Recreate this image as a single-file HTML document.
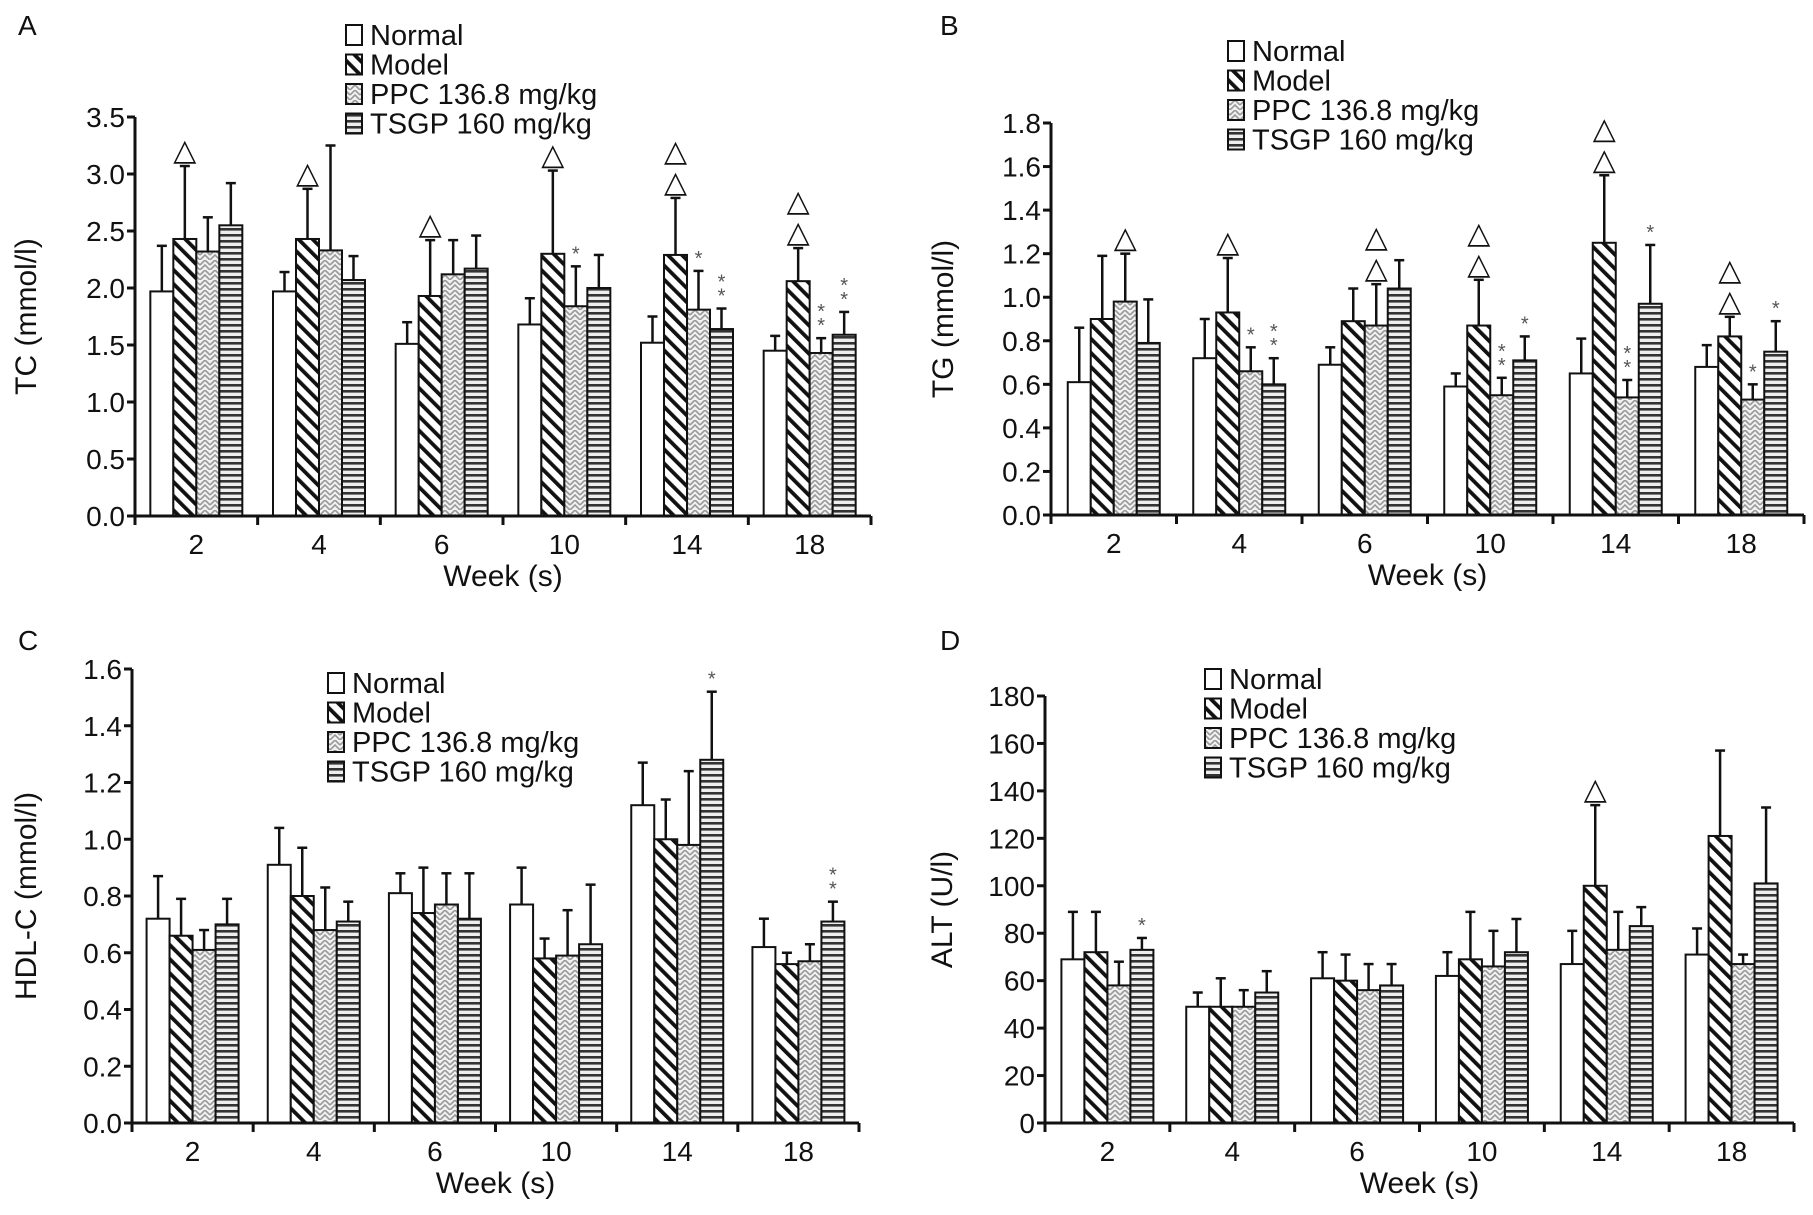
<!DOCTYPE html>
<html><head><meta charset="utf-8">
<style>
html,body{margin:0;padding:0;background:#fff;}
svg{display:block;font-family:"Liberation Sans",Arial,sans-serif;}
</style></head>
<body>
<svg id="fig" width="1813" height="1215" viewBox="0 0 1813 1215" xmlns="http://www.w3.org/2000/svg">
<defs>
<pattern id="pModel" patternUnits="userSpaceOnUse" width="10" height="10" patternTransform="rotate(-45)">
<rect width="10" height="10" fill="#fff"/><rect x="0" y="0" width="3.8" height="10" fill="#111"/></pattern>
<pattern id="pPPC" patternUnits="userSpaceOnUse" width="10" height="10">
<rect width="10" height="10" fill="#f2f2f2"/><path d="M0,5 L5,0 L10,5 M0,10 L5,5 L10,10" stroke="#999" stroke-width="1.6" fill="none"/></pattern>
<pattern id="pTSGP" patternUnits="userSpaceOnUse" width="8" height="6">
<rect width="8" height="6" fill="#eee"/><rect y="0" width="8" height="2.6" fill="#333"/></pattern>
</defs>
</svg>
<script>
// ---- Panel A: TC ----
const categories = ['2','4','6','10','14','18'];
const seriesNames = ['Normal','Model','PPC 136.8 mg/kg','TSGP 160 mg/kg'];
const tcNormal = [1.97,1.97,1.51,1.68,1.52,1.45];
const tcModel  = [2.43,2.43,1.93,2.30,2.29,2.06];
const tcPPC    = [2.32,2.33,2.12,1.84,1.81,1.43];
const tcTSGP   = [2.55,2.07,2.17,2.00,1.64,1.59];
const tcErrNormal = [0.40,0.17,0.19,0.23,0.23,0.13];
const tcErrModel  = [0.64,0.44,0.49,0.73,0.50,0.29];
const tcErrPPC    = [0.30,0.92,0.30,0.35,0.34,0.13];
const tcErrTSGP   = [0.37,0.21,0.29,0.29,0.18,0.20];
const tcTicks = ['0.0','0.5','1.0','1.5','2.0','2.5','3.0','3.5'];
// ---- Panel B: TG ----
const tgNormal = [0.61,0.72,0.69,0.59,0.65,0.68];
const tgModel  = [0.90,0.93,0.89,0.87,1.25,0.82];
const tgPPC    = [0.98,0.66,0.87,0.55,0.54,0.53];
const tgTSGP   = [0.79,0.60,1.04,0.71,0.97,0.75];
const tgErrNormal = [0.25,0.18,0.08,0.06,0.16,0.10];
const tgErrModel  = [0.29,0.25,0.15,0.21,0.31,0.09];
const tgErrPPC    = [0.22,0.11,0.19,0.08,0.08,0.07];
const tgErrTSGP   = [0.20,0.12,0.13,0.11,0.27,0.14];
const tgTicks = ['0.0','0.2','0.4','0.6','0.8','1.0','1.2','1.4','1.6','1.8'];
// ---- Panel C: HDL-C ----
const hdlNormal = [0.72,0.91,0.81,0.77,1.12,0.62];
const hdlModel  = [0.66,0.80,0.74,0.58,1.00,0.56];
const hdlPPC    = [0.61,0.68,0.77,0.59,0.98,0.57];
const hdlTSGP   = [0.70,0.71,0.72,0.63,1.28,0.71];
const hdlErrNormal = [0.15,0.13,0.07,0.13,0.15,0.10];
const hdlErrModel  = [0.13,0.17,0.16,0.07,0.14,0.04];
const hdlErrPPC    = [0.07,0.15,0.11,0.16,0.26,0.06];
const hdlErrTSGP   = [0.09,0.07,0.16,0.21,0.24,0.07];
const hdlTicks = ['0.0','0.2','0.4','0.6','0.8','1.0','1.2','1.4','1.6'];
// ---- Panel D: ALT ----
const altNormal = [69,49,61,62,67,71];
const altModel  = [72,49,60,69,100,121];
const altPPC    = [58,49,56,66,73,67];
const altTSGP   = [73,55,58,72,83,101];
const altErrNormal = [20,6,11,10,14,11];
const altErrModel  = [17,12,11,20,34,36];
const altErrPPC    = [10,7,11,15,16,4];
const altErrTSGP   = [5,9,9,14,8,32];
const altTicks = ['0','20','40','60','80','100','120','140','160','180'];

// annotations: [categoryIndex, seriesIndex, text]
const tcMarks = [[0,1,'△'],[1,1,'△'],[2,1,'△'],[3,1,'△'],[4,1,'△△'],[5,1,'△△'],[3,2,'*'],[4,2,'*'],[4,3,'**'],[5,2,'**'],[5,3,'**']];
const tgMarks = [[0,2,'△'],[1,1,'△'],[2,2,'△△'],[3,1,'△△'],[4,1,'△△'],[5,1,'△△'],[1,2,'*'],[1,3,'**'],[3,2,'**'],[3,3,'*'],[4,2,'**'],[4,3,'*'],[5,2,'*'],[5,3,'*']];
const hdlMarks = [[4,3,'*'],[5,3,'**']];
const altMarks = [[4,1,'△'],[0,3,'*']];

const NS='http://www.w3.org/2000/svg';
const svg=document.getElementById('fig');
const fills=['#fff','url(#pModel)','url(#pPPC)','url(#pTSGP)'];
function mk(tag,attrs,parent){const e=document.createElementNS(NS,tag);for(const k in attrs)e.setAttribute(k,attrs[k]);(parent||svg).appendChild(e);return e;}

function panel(cfg){
  const g=mk('g',{});
  
  
  const {x0,x1,y0,y1,ymax}=cfg;
  const ys=v=>y0-(v/ymax)*(y0-y1);
  const gw=(x1-x0)/categories.length;
  const bw=23, pad=(gw-4*bw)/2;
  const bx=(ci,si)=>x0+ci*gw+pad+si*bw;
  const L=mk('text',{x:cfg.lx,y:cfg.ly,'font-size':28,fill:'#111'},g);L.textContent=cfg.letter;
  
  
  cfg.series.forEach((vals,si)=>{
    vals.forEach((v,ci)=>{
      const x=bx(ci,si), top=ys(v), e=cfg.errs[si][ci], et=ys(v+e), cx=x+bw/2;
      const ln=mk('line',{x1:cx,y1:top,x2:cx,y2:et,stroke:'#111','stroke-width':2.5},g);
      
      
      mk('line',{x1:cx-5,y1:et,x2:cx+5,y2:et,stroke:'#111','stroke-width':2.5},g);
      const r=mk('rect',{x:x,y:top,width:bw,height:y0-top,fill:fills[si],stroke:'#111','stroke-width':2},g);
      
      
    });
  });
  cfg.marks.forEach(m=>{
    const [ci,si,t]=m;const v=cfg.series[si][ci]+cfg.errs[si][ci];
    const cx=bx(ci,si)+bw/2;let y=ys(v)-6;
    const tri=t[0]==='△';
    for(let k=0;k<t.length;k++){
      const tt=mk('text',{x:cx,y:y,'text-anchor':'middle','font-size':tri?30:20,fill:tri?'#111':'#555'},g);
      tt.textContent=t[k];
      
      
      y-= tri?31:14;
    }
  });
  mk('line',{x1:x0,y1:y0,x2:x1,y2:y0,stroke:'#111','stroke-width':3},g);
  mk('line',{x1:x0,y1:y0+1.5,x2:x0,y2:y1,stroke:'#111','stroke-width':3},g);
  cfg.ticks.forEach((t,i)=>{
    const y=ys(i*ymax/(cfg.ticks.length-1));
    mk('line',{x1:x0-8,y1:y,x2:x0,y2:y,stroke:'#111','stroke-width':3},g);
    const tx=mk('text',{x:x0-10,y:y+10,'text-anchor':'end','font-size':28,fill:'#111'},g);tx.textContent=t;
    
    
  });
  for(let i=0;i<=categories.length;i++){
    const x=x0+i*gw;mk('line',{x1:x,y1:y0,x2:x,y2:y0+9,stroke:'#111','stroke-width':3},g);
  }
  categories.forEach((c,i)=>{
    const tx=mk('text',{x:x0+(i+0.5)*gw,y:y0+38,'text-anchor':'middle','font-size':28,fill:'#111'},g);tx.textContent=c;
    
    
  });
  const xt=mk('text',{x:(x0+x1)/2,y:y0+70,'text-anchor':'middle','font-size':30,fill:'#111'},g);xt.textContent='Week (s)';
  
  
  const yt=mk('text',{x:0,y:0,'text-anchor':'middle','font-size':30,fill:'#111',transform:`translate(${cfg.ytx},${(y0+y1)/2}) rotate(-90)`},g);yt.textContent=cfg.ytitle;
  
  
  seriesNames.forEach((n,i)=>{
    const y=cfg.legy+i*29.5;
    mk('rect',{x:cfg.legx,y:y-10,width:16,height:20,fill:fills[i],stroke:'#111','stroke-width':2},g);
    const tx=mk('text',{x:cfg.legx+24,y:y+10,'font-size':29,fill:'#111'},g);tx.textContent=n;
    
    
  });
}
panel({id:'tc',letter:'A',lx:18,ly:35,x0:135,x1:871,y0:516,y1:117,ymax:3.5,ticks:tcTicks,ytitle:'TC (mmol/l)',ytx:36,legx:346,legy:35,
  series:[tcNormal,tcModel,tcPPC,tcTSGP],errs:[tcErrNormal,tcErrModel,tcErrPPC,tcErrTSGP],marks:tcMarks});
panel({id:'tg',letter:'B',lx:940,ly:35,x0:1051,x1:1804,y0:515,y1:123,ymax:1.8,ticks:tgTicks,ytitle:'TG (mmol/l)',ytx:953,legx:1228,legy:51,
  series:[tgNormal,tgModel,tgPPC,tgTSGP],errs:[tgErrNormal,tgErrModel,tgErrPPC,tgErrTSGP],marks:tgMarks});
panel({id:'hdl',letter:'C',lx:18,ly:650,x0:132,x1:859,y0:1123,y1:669,ymax:1.6,ticks:hdlTicks,ytitle:'HDL-C (mmol/l)',ytx:36,legx:328,legy:683,
  series:[hdlNormal,hdlModel,hdlPPC,hdlTSGP],errs:[hdlErrNormal,hdlErrModel,hdlErrPPC,hdlErrTSGP],marks:hdlMarks});
panel({id:'alt',letter:'D',lx:940,ly:650,x0:1045,x1:1794,y0:1123,y1:696,ymax:180,ticks:altTicks,ytitle:'ALT (U/l)',ytx:952,legx:1205,legy:679,
  series:[altNormal,altModel,altPPC,altTSGP],errs:[altErrNormal,altErrModel,altErrPPC,altErrTSGP],marks:altMarks});
</script>
</body></html>
